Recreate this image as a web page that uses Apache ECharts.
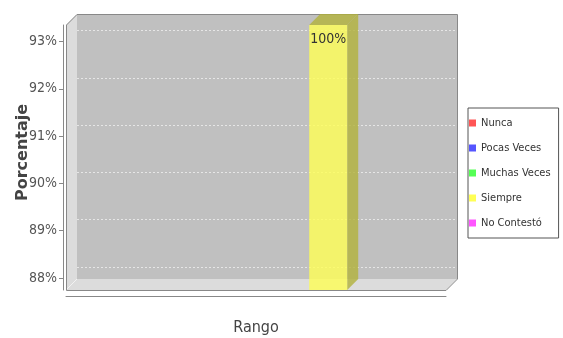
<!DOCTYPE html>
<html>
<head>
<meta charset="utf-8">
<script src="https://cdn.jsdelivr.net/npm/echarts@6/dist/echarts.min.js"></script>
<style>html,body{margin:0;padding:0;background:#fff;}#c{width:563px;height:338px;}</style>
</head>
<body>
<div id="c"></div>
<script>
const categories = ['Rango'];
const seriesNames = ['Nunca', 'Pocas Veces', 'Muchas Veces', 'Siempre', 'No Contestó'];
const nuncaValues = [0];
const pocasVecesValues = [0];
const muchasVecesValues = [0];
const siempreValues = [100];
const noContestoValues = [0];
const yTicks = [88, 89, 90, 91, 92, 93];

const seriesValues = [nuncaValues, pocasVecesValues, muchasVecesValues, siempreValues, noContestoValues];
const colors = ['#ff5555', '#5555ff', '#55ff55', '#ffff55', '#ff55ff'];
const sideColors = ['rgba(178,59,59,0.8)', 'rgba(59,59,178,0.8)', 'rgba(59,178,59,0.8)', 'rgba(178,178,59,0.8)', 'rgba(178,59,178,0.8)'];
const frontColors = ['rgba(255,85,85,0.8)', 'rgba(85,85,255,0.8)', 'rgba(85,255,85,0.8)', 'rgba(255,255,85,0.8)', 'rgba(255,85,255,0.8)'];

const Y_MIN = 87.746, Y_MAX = 93.349;
const DEPTH = 11;
const NARROW = '"Liberation Sans Narrow", "DejaVu Sans Condensed", sans-serif';

function makeRender(k) {
  return function (params, api) {
    const v = api.value(1);
    if (v <= Y_MIN) return null;
    const cs = params.coordSys;
    const band = api.size([1, 0])[0];
    const barW = band * 0.1;
    const slot = barW * 1.9;
    const c = api.coord([api.value(0), v]);
    const b = api.coord([api.value(0), Y_MIN]);
    const cx = c[0] + (k - (seriesNames.length - 1) / 2) * slot;
    const x0 = cx - barW / 2, x1 = cx + barW / 2;
    const yTop = Math.max(c[1], cs.y);
    const yBase = b[1];
    return {
      type: 'group',
      children: [
        { type: 'polygon', shape: { points: [[x1, yTop], [x1 + DEPTH, yTop - DEPTH], [x1 + DEPTH, yBase - DEPTH], [x1, yBase]] },
          style: { fill: sideColors[k] } },
        { type: 'polygon', shape: { points: [[x0, yTop], [x0 + DEPTH, yTop - DEPTH], [x1 + DEPTH, yTop - DEPTH], [x1, yTop]] },
          style: { fill: sideColors[k] } },
        { type: 'rect', shape: { x: x0, y: yTop, width: barW, height: yBase - yTop },
          style: { fill: frontColors[k] } },
        { type: 'text', style: { text: v + '%', x: cx, y: yTop + 7, align: 'center', verticalAlign: 'top',
          font: '14px ' + NARROW, fill: '#333' } }
      ]
    };
  };
}

const chart = echarts.init(document.getElementById('c'), null, { renderer: 'canvas' });
chart.setOption({
  animation: false,
  backgroundColor: '#fff',
  graphic: [
    { type: 'rect', z: -10, shape: { x: 77, y: 14, width: 380, height: 265 }, style: { fill: '#c0c0c0' } },
    { type: 'polygon', z: -10, shape: { points: [[66, 25], [77, 14], [77, 279], [66, 290]] }, style: { fill: '#dcdcdc' } },
    { type: 'polygon', z: -10, shape: { points: [[66, 290], [77, 279], [457, 279], [446, 290]] }, style: { fill: '#dcdcdc' } },
    { type: 'polyline', z: -9, shape: { points: [[66, 290], [77, 279]] }, style: { stroke: '#f2f2f2', lineWidth: 1, fill: null } },
    { type: 'polyline', z: -9, shape: { points: [[66.5, 290.5], [66.5, 25], [77, 14.5], [457.5, 14.5], [457.5, 279], [446, 290.5], [66.5, 290.5]] },
      style: { stroke: '#888', lineWidth: 1, fill: null } }
  ],
  grid: [
    { left: 66, right: 117, top: 25, bottom: 48, outerBoundsMode: 'none' },
    { left: 77, right: 106, top: 30.5, bottom: 71, outerBoundsMode: 'none' }
  ],
  legend: {
    orient: 'vertical', left: 468, top: 108,
    data: seriesNames, icon: 'rect', itemWidth: 7, itemHeight: 7, itemGap: 11,
    padding: [8, 8, 8, 1], borderColor: '#555', borderWidth: 1,
    textStyle: { fontFamily: NARROW, fontSize: 11, color: '#333', lineHeight: 14 }
  },
  xAxis: [
    { type: 'category', gridIndex: 0, data: categories, offset: 6,
      axisLine: { lineStyle: { color: '#888' } },
      axisTick: { alignWithLabel: true, length: 4, lineStyle: { color: '#888' } },
      axisLabel: { margin: 24, fontFamily: NARROW, fontSize: 16, color: '#444' } },
    { type: 'category', gridIndex: 1, data: categories, show: false }
  ],
  yAxis: [
    { type: 'value', gridIndex: 0, min: Y_MIN, max: Y_MAX, offset: 3,
      axisLine: { show: true, lineStyle: { color: '#888' } },
      axisTick: { show: true, length: 4, customValues: yTicks, lineStyle: { color: '#888' } },
      axisLabel: { customValues: yTicks, formatter: v => v + '%', margin: 6, fontFamily: NARROW, fontSize: 14, color: '#555' },
      splitLine: { show: false },
      name: 'Porcentaje', nameLocation: 'middle', nameGap: 32, nameRotate: 90, nameMoveOverlap: false,
      nameTextStyle: { fontFamily: 'DejaVu Sans', fontWeight: 'bold', fontSize: 16, color: '#444', padding: [0, 0, 0, 10] } },
    { type: 'value', gridIndex: 1, min: 88, max: 93, interval: 1,
      axisLine: { show: false }, axisTick: { show: false }, axisLabel: { show: false },
      splitLine: { show: true, lineStyle: { color: '#e6e6e6', type: [2, 2], width: 1 } } }
  ],
  series: seriesNames.map((name, k) => ({
    name: name,
    type: 'custom',
    xAxisIndex: 0, yAxisIndex: 0,
    itemStyle: { color: colors[k] },
    encode: { x: 0, y: 1 },
    data: seriesValues[k].map((v, i) => [i, v]),
    renderItem: makeRender(k),
    z: 5
  }))
});
</script>
</body>
</html>
